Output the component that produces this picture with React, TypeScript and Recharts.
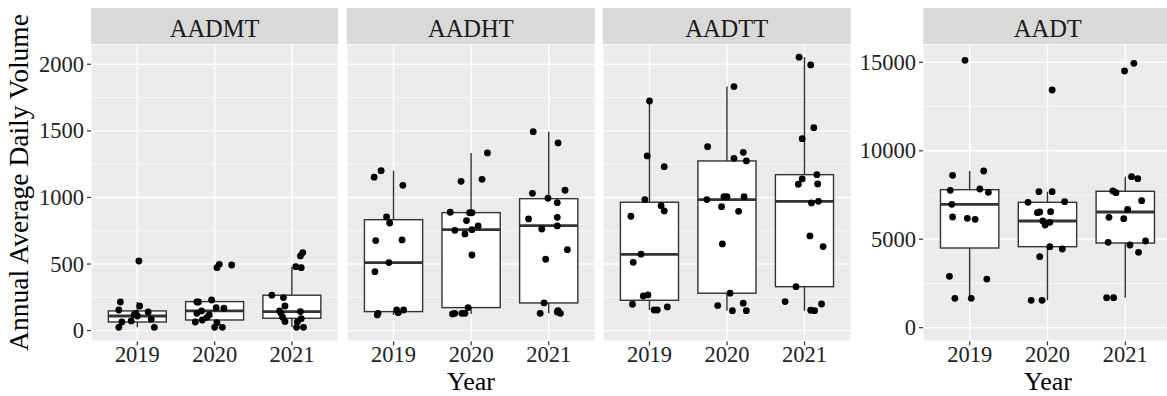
import React from "react";
import { ComposedChart, Bar, Scatter, XAxis, YAxis, CartesianGrid } from "recharts";

const years = ["2019", "2020", "2021"];

const sharedTicks = [0, 500, 1000, 1500, 2000];
const sharedMinor = [250, 750, 1250, 1750];
const sharedDomain = [-80, 2152];

const aadtTicks = [0, 5000, 10000, 15000];
const aadtMinor = [2500, 7500, 12500];
const aadtDomain = [-769, 16034];

// boxplot stats per year: [lower whisker, q1, median, q3, upper whisker]
const aadmtBoxes = [
  [25, 65, 110, 148, 215],
  [25, 80, 148, 218, 230],
  [25, 93, 143, 266, 480],
];
const aadhtBoxes = [
  [118, 143, 511, 833, 1201],
  [125, 173, 758, 886, 1334],
  [130, 208, 788, 991, 1494],
];
const aadttBoxes = [
  [155, 228, 573, 964, 1724],
  [150, 281, 984, 1274, 1832],
  [150, 330, 971, 1171, 2053],
];
const aadtBoxes = [
  [1660, 4504, 6973, 7800, 8856],
  [1549, 4578, 6030, 7086, 7688],
  [1696, 4787, 6539, 7709, 8535],
];

// jittered points: [year index (1-3), jitter, value]
const aadmtPoints = [
  [1, 0.02, 523], [1, -0.22, 215], [1, -0.24, 155], [1, 0.03, 185], [1, -0.02, 130],
  [1, 0.14, 140], [1, -0.2, 65], [1, -0.08, 73], [1, 0.18, 85], [1, -0.24, 25],
  [1, 0.22, 25], [1, 0.0, 110], [1, -0.04, 120],
  [2, 0.03, 473], [2, 0.06, 498], [2, 0.22, 493], [2, -0.23, 215], [2, -0.21, 215],
  [2, -0.04, 230], [2, 0.02, 173], [2, 0.12, 168], [2, -0.23, 130], [2, -0.17, 148],
  [2, -0.07, 118], [2, -0.1, 100], [2, -0.16, 80], [2, -0.25, 65], [2, 0.03, 60],
  [2, 0.0, 25], [2, 0.1, 25],
  [3, 0.14, 586], [3, 0.11, 561], [3, 0.05, 480], [3, 0.12, 473], [3, -0.26, 266],
  [3, -0.11, 248], [3, -0.09, 185], [3, -0.16, 148], [3, -0.14, 130], [3, 0.11, 143],
  [3, -0.12, 100], [3, -0.09, 68], [3, 0.12, 90], [3, 0.07, 65], [3, 0.06, 25],
  [3, 0.15, 25],
];
const aadhtPoints = [
  [1, -0.25, 1152], [1, -0.16, 1201], [1, 0.12, 1091], [1, -0.09, 854], [1, -0.05, 808],
  [1, -0.23, 676], [1, 0.11, 681], [1, -0.06, 511], [1, -0.24, 443], [1, -0.2, 130],
  [1, -0.21, 118], [1, 0.04, 155], [1, 0.06, 135], [1, 0.13, 155],
  [2, 0.21, 1334], [2, -0.13, 1121], [2, 0.14, 1136], [2, -0.27, 889], [2, -0.02, 885],
  [2, 0.01, 885], [2, -0.06, 826], [2, 0.09, 786], [2, -0.21, 753], [2, 0.01, 758],
  [2, -0.08, 726], [2, 0.01, 568], [2, -0.04, 173], [2, -0.21, 130], [2, -0.24, 125],
  [2, -0.12, 130], [2, -0.08, 130],
  [3, -0.2, 1494], [3, 0.12, 1409], [3, -0.21, 1031], [3, 0.21, 1054], [3, -0.01, 994],
  [3, 0.11, 961], [3, -0.26, 839], [3, 0.11, 851], [3, 0.11, 786], [3, -0.09, 763],
  [3, 0.24, 608], [3, -0.04, 536], [3, -0.06, 208], [3, -0.11, 130], [3, 0.12, 150],
  [3, 0.15, 130], [3, 0.11, 140],
];
const aadttPoints = [
  [1, 0.0, 1724], [1, -0.03, 1312], [1, 0.19, 1231], [1, -0.06, 984], [1, 0.15, 938],
  [1, 0.19, 899], [1, -0.24, 859], [1, -0.11, 574], [1, -0.21, 513], [1, -0.08, 260],
  [1, -0.02, 268], [1, -0.22, 198], [1, 0.23, 178], [1, 0.06, 155], [1, 0.1, 155],
  [2, 0.09, 1832], [2, -0.25, 1381], [2, 0.09, 1294], [2, 0.21, 1339], [2, 0.25, 1274],
  [2, -0.26, 984], [2, -0.04, 1006], [2, 0.0, 1006], [2, 0.22, 1006], [2, -0.07, 931],
  [2, 0.15, 896], [2, -0.06, 651], [2, 0.04, 281], [2, -0.12, 188], [2, 0.21, 206],
  [2, 0.07, 150], [2, 0.25, 150],
  [3, -0.07, 2053], [3, 0.08, 1995], [3, 0.12, 1524], [3, -0.03, 1441], [3, 0.16, 1171],
  [3, -0.03, 1139], [3, -0.08, 1099], [3, 0.17, 1101], [3, 0.09, 959], [3, 0.18, 971],
  [3, 0.07, 711], [3, 0.24, 631], [3, -0.11, 330], [3, -0.25, 218], [3, 0.22, 200],
  [3, 0.08, 153], [3, 0.13, 150],
];
const aadtPoints = [
  [1, -0.06, 15113], [1, -0.22, 8613], [1, 0.18, 8856], [1, -0.25, 7764], [1, 0.13, 7839],
  [1, 0.24, 7652], [1, -0.23, 6973], [1, -0.22, 6256], [1, -0.03, 6180], [1, 0.07, 6124],
  [1, -0.26, 2902], [1, 0.22, 2750], [1, -0.19, 1660], [1, 0.02, 1660],
  [2, 0.06, 13434], [2, -0.25, 7086], [2, -0.11, 7688], [2, 0.06, 7688], [2, 0.22, 7122],
  [2, -0.13, 6500], [2, -0.1, 6540], [2, 0.04, 6560], [2, -0.06, 6030], [2, -0.03, 5805],
  [2, 0.03, 5955], [2, -0.1, 4013], [2, 0.03, 4578], [2, 0.19, 4448], [2, -0.21, 1549],
  [2, -0.07, 1549],
  [3, -0.01, 14509], [3, 0.11, 14944], [3, 0.08, 8535], [3, 0.16, 8422], [3, -0.16, 7726],
  [3, -0.12, 7630], [3, 0.21, 7178], [3, -0.21, 6240], [3, 0.03, 6692], [3, -0.02, 6161],
  [3, -0.22, 4827], [3, 0.06, 4674], [3, 0.26, 4900], [3, 0.17, 4262], [3, -0.24, 1696],
  [3, -0.15, 1696],
];

const FONT = "Liberation Serif";
const TOP = 44;
const CHART_H = 352;
const PLOT_H = 297.3;

const BoxShape = (props: any) => {
  const { x, y, width, height, bw } = props;
  const d = props.payload ?? props;
  const top = Math.min(y, y + height);
  const h = Math.abs(height);
  const py = (v: number) => top + ((d.hi - v) / (d.hi - d.lo)) * h;
  const cx = x + width / 2;
  const x0 = cx - bw / 2;
  return (
    <g>
      <line x1={cx} x2={cx} y1={py(d.hi)} y2={py(d.q3)} stroke="#333" strokeWidth={1.4} />
      <line x1={cx} x2={cx} y1={py(d.q1)} y2={py(d.lo)} stroke="#333" strokeWidth={1.4} />
      <rect x={x0} y={py(d.q3)} width={bw} height={py(d.q1) - py(d.q3)} fill="#fff" stroke="#333" strokeWidth={1.4} />
      <line x1={x0} x2={x0 + bw} y1={py(d.med)} y2={py(d.med)} stroke="#333" strokeWidth={2.8} />
    </g>
  );
};

const Dot = (props: any) => <circle cx={props.cx} cy={props.cy} r={3.4} fill="#000" />;

const tickText = (fmt: (v: number) => string, dy: string) => (p: any) => (
  <text
    x={p.x}
    y={p.y}
    dy={dy}
    textAnchor={p.textAnchor}
    fontFamily={FONT}
    fontSize={22.5}
    fill="#222"
    style={{ fontFamily: FONT, fontSize: 22.5 }}
  >
    {fmt(p.payload.value)}
  </text>
);

interface PanelProps {
  left: number;
  plotWidth: number;
  axisWidth: number;
  boxes: number[][];
  points: number[][];
  domain: number[];
  ticks: number[];
  minor: number[];
}

const Panel = ({ left, plotWidth, axisWidth, boxes, points, domain, ticks, minor }: PanelProps) => {
  const boxData = boxes.map((b, i) => ({
    x: i + 1,
    range: [b[0], b[4]],
    lo: b[0],
    q1: b[1],
    med: b[2],
    q3: b[3],
    hi: b[4],
  }));
  const pointData = points.map((p) => ({ x: p[0] + p[1], y: p[2] }));
  const boxWidth = (plotWidth / 3.2) * 0.75;
  return (
    <div style={{ position: "absolute", left: left - axisWidth, top: TOP }}>
      <ComposedChart
        width={axisWidth + plotWidth}
        height={CHART_H}
        data={boxData}
        margin={{ top: 0, right: 0, bottom: 0, left: 0 }}
      >
        <CartesianGrid yAxisId="minor" vertical={false} stroke="#fff" strokeWidth={0.7} fill="#EBEBEB" />
        <CartesianGrid stroke="#fff" strokeWidth={1.4} />
        <XAxis
          type="number"
          dataKey="x"
          domain={[0.4, 3.6]}
          ticks={[1, 2, 3]}
          interval={0}
          allowDataOverflow
          height={CHART_H - PLOT_H}
          axisLine={false}
          tickSize={4}
          tickMargin={1}
          tickLine={{ stroke: "#333", strokeWidth: 1.2 }}
          tick={tickText((v) => years[v - 1], "0.71em")}
        />
        <YAxis
          type="number"
          dataKey="y"
          domain={domain}
          ticks={ticks}
          interval={0}
          allowDataOverflow
          hide={axisWidth === 0}
          width={axisWidth}
          axisLine={false}
          tickSize={4}
          tickMargin={3}
          tickLine={{ stroke: "#333", strokeWidth: 1.2 }}
          tick={tickText((v) => String(v), "0.34em")}
        />
        <YAxis yAxisId="minor" type="number" domain={domain} ticks={minor} allowDataOverflow hide />
        <Bar
          dataKey="range"
          barSize={boxWidth}
          shape={(p: any) => <BoxShape {...p} bw={boxWidth} />}
          isAnimationActive={false}
        />
        <Scatter data={pointData} shape={Dot} isAnimationActive={false} />
      </ComposedChart>
    </div>
  );
};

const strips = [
  { label: "AADMT", left: 91, width: 247.3 },
  { label: "AADHT", left: 346.7, width: 248.3 },
  { label: "AADTT", left: 602.7, width: 248 },
  { label: "AADT", left: 923.3, width: 249 },
];

export default function App() {
  return (
    <div
      style={{
        position: "absolute",
        left: 0,
        top: 0,
        width: 1167,
        height: 396,
        overflow: "hidden",
        background: "#fff",
      }}
    >
      <Panel left={91} plotWidth={247.3} axisWidth={91} boxes={aadmtBoxes} points={aadmtPoints}
        domain={sharedDomain} ticks={sharedTicks} minor={sharedMinor} />
      <Panel left={346.7} plotWidth={248.3} axisWidth={0} boxes={aadhtBoxes} points={aadhtPoints}
        domain={sharedDomain} ticks={sharedTicks} minor={sharedMinor} />
      <Panel left={602.7} plotWidth={248} axisWidth={0} boxes={aadttBoxes} points={aadttPoints}
        domain={sharedDomain} ticks={sharedTicks} minor={sharedMinor} />
      <Panel left={923.3} plotWidth={249} axisWidth={72} boxes={aadtBoxes} points={aadtPoints}
        domain={aadtDomain} ticks={aadtTicks} minor={aadtMinor} />
      <svg width={1167} height={396} style={{ position: "absolute", left: 0, top: 0, pointerEvents: "none" }}>
        {strips.map((s) => (
          <g key={s.label}>
            <rect x={s.left} y={8} width={s.width} height={36} fill="#D9D9D9" />
            <text x={s.left + s.width / 2} y={36.5} textAnchor="middle" fontFamily={FONT} fontSize={24.5} fill="#1A1A1A">
              {s.label}
            </text>
          </g>
        ))}
        <text x={471} y={390.2} textAnchor="middle" fontFamily={FONT} fontSize={26} fill="#000">Year</text>
        <text x={1048} y={390.2} textAnchor="middle" fontFamily={FONT} fontSize={26} fill="#000">Year</text>
        <text transform="translate(28.3,182.5) rotate(-90)" textAnchor="middle" fontFamily={FONT} fontSize={27.5} fill="#000">
          Annual Average Daily Volume
        </text>
      </svg>
    </div>
  );
}
